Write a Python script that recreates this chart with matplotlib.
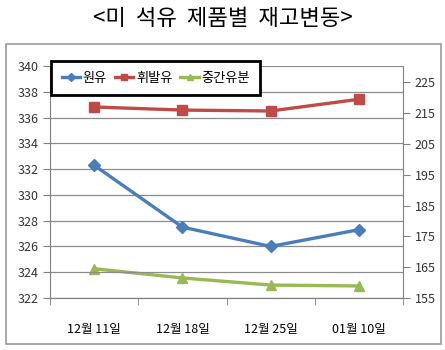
import numpy as np
import matplotlib.pyplot as plt
from matplotlib.patches import Rectangle

plt.rcParams['font.family'] = ['Noto Sans CJK KR', 'DejaVu Sans']

dates = ["12월 11일", "12월 18일", "12월 25일", "01월 10일"]
crude = [332.3, 327.5, 326.0, 327.3]       # left axis
gasoline = [217.0, 216.0, 215.7, 219.5]    # right axis
distillate = [164.5, 161.5, 159.2, 158.9]  # right axis

blue = "#4A7EBB"
red = "#BE4B48"
green = "#98B954"

fig = plt.figure(figsize=(4.45, 3.5), dpi=100)
fig.patches.append(Rectangle((0.0135, 0.017), 0.978, 0.857, transform=fig.transFigure,
                             fill=False, edgecolor="#9a9a9a", linewidth=1.2))
fig.text(0.5, 0.947, "<미  석유  제품별  재고변동>", ha="center", va="center", fontsize=16)

ax = fig.add_axes([0.1124, 0.1486, 0.7932, 0.6628])
ax2 = ax.twinx()

x = np.arange(len(dates))
ax.plot(x, crude, color=blue, lw=2.4, marker="D", ms=6, label="원유", zorder=3)
ax2.plot(x, gasoline, color=red, lw=2.4, marker="s", ms=7, label="휘발유")
ax2.plot(x, distillate, color=green, lw=2.4, marker="^", ms=7, label="중간유분")

ax.set_ylim(322, 340)
ax.set_yticks(np.arange(322, 341, 2))
ax2.set_ylim(155, 230.3)
ax2.set_yticks(np.arange(155, 226, 10))
ax.set_xlim(-0.5, 3.5)
ax.set_xticks(x)
ax.set_xticklabels(dates)
ax.set_xticks(np.arange(-0.5, 3.6, 1), minor=True)
ax.tick_params(axis="x", which="major", length=0, pad=18, labelsize=9)
ax.tick_params(axis="x", which="minor", length=5, direction="out", color="#808080")
ax.tick_params(axis="y", length=5, color="#808080", labelsize=9, labelcolor="#333333")
ax2.tick_params(axis="y", length=5, color="#808080", labelsize=9, labelcolor="#333333")
ax.grid(axis="y", color="#8c8c8c", lw=0.9)

for a in (ax, ax2):
    for s in a.spines.values():
        s.set_visible(False)
    a.spines["bottom"].set_visible(True)
    a.spines["bottom"].set_color("#808080")
ax.spines["left"].set_visible(True)
ax.spines["left"].set_color("#808080")
ax2.spines["right"].set_visible(True)
ax2.spines["right"].set_color("#808080")
ax.set_zorder(ax2.get_zorder() + 1)
ax.patch.set_visible(False)

h1, l1 = ax.get_legend_handles_labels()
h2, l2 = ax2.get_legend_handles_labels()
leg = ax.legend(h1 + h2, l1 + l2, ncol=3, loc="upper left", bbox_to_anchor=(0.003, 1.02),
                fontsize=9.5, frameon=True, fancybox=False, handlelength=1.4,
                handletextpad=0.2, columnspacing=0.6, borderpad=0.8,
                borderaxespad=0, markerscale=0.7)
leg.get_frame().set_edgecolor("black")
leg.get_frame().set_linewidth(2)
leg.get_frame().set_alpha(1)

fig.savefig("out.png", dpi=100)
